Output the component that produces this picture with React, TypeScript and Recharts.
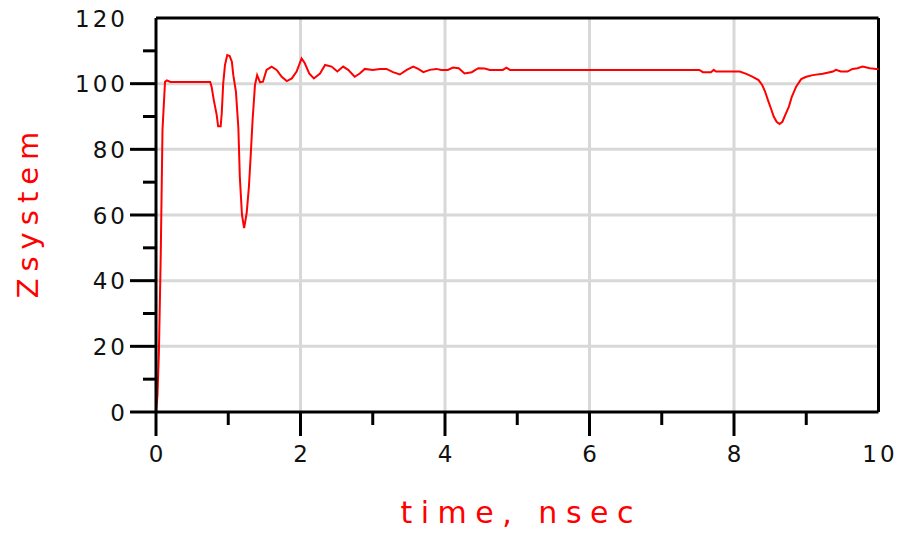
import React from 'react';
import { LineChart, Line, XAxis, YAxis, CartesianGrid, ReferenceLine, Label } from 'recharts';

const timeNs = [
  0, 0.02, 0.04, 0.065, 0.09, 0.125, 0.15, 0.2, 0.75, 0.77, 0.8, 0.84, 0.86, 0.895, 0.91, 0.93,
  0.955, 0.986, 1.02, 1.05, 1.07, 1.106, 1.14, 1.16, 1.19, 1.22, 1.255, 1.286, 1.31, 1.337, 1.37,
  1.4, 1.44, 1.48, 1.53, 1.6, 1.67, 1.74, 1.81, 1.88, 1.946, 2.015, 2.06, 2.12, 2.185, 2.27, 2.34,
  2.43, 2.51, 2.59, 2.66, 2.75, 2.82, 2.89, 3.0, 3.1, 3.19, 3.28, 3.375, 3.47, 3.56, 3.63, 3.7,
  3.79, 3.88, 3.95, 4.04, 4.11, 4.19, 4.27, 4.37, 4.46, 4.55, 4.62, 4.8, 4.85, 4.9, 7.52, 7.57,
  7.68, 7.72, 7.75, 8.08, 8.17, 8.26, 8.34, 8.39, 8.43, 8.47, 8.51, 8.55, 8.59, 8.63, 8.67, 8.71,
  8.76, 8.8, 8.86, 8.93, 9.0, 9.09, 9.23, 9.37, 9.41, 9.48, 9.57, 9.64, 9.71, 9.78, 9.88, 9.97, 10.0,
];

const zsystem = [
  0, 5, 18, 47, 86, 100.6, 101, 100.5, 100.5, 99, 95, 90.5, 87, 87, 91, 100,
  105.7, 108.7, 108.4, 106.7, 102.6, 97.6, 86.5, 71.7, 60, 56, 60.6, 68.6, 77.8, 89, 99.6,
  102.6, 100.4, 100.6, 104.2, 105.2, 104.2, 102.1, 100.8, 101.6, 103.7, 107.7, 106.2, 103.1, 101.6, 103.1, 105.7,
  105.2, 103.7, 105.2, 104.2, 102.1, 103.1, 104.5, 104.2, 104.5, 104.5, 103.5, 102.8, 104.2, 105.2, 104.5, 103.5,
  104.2, 104.5, 104.2, 104.2, 104.9, 104.7, 103.1, 103.5, 104.7, 104.6, 104.2, 104.2, 104.9, 104.2, 104.2, 103.5,
  103.5, 104.2, 103.7, 103.7, 103, 102.1, 101.1, 99.6, 97.6, 95, 92.5, 90, 88.4, 87.7, 88.4, 90.5,
  93, 96, 99.1, 101.4, 102.1, 102.6, 103, 103.7, 104.2, 103.7, 103.7, 104.5, 104.7, 105.2, 104.7, 104.5, 104.5,
];

const xTicks = [0, 1, 2, 3, 4, 5, 6, 7, 8, 9, 10];
const xMajor = [0, 2, 4, 6, 8, 10];
const yTicks = [0, 10, 20, 30, 40, 50, 60, 70, 80, 90, 100, 110, 120];
const yMajor = [0, 20, 40, 60, 80, 100, 120];
const gridX = [2, 4, 6, 8];
const gridY = [20, 40, 60, 80, 100];

const data = timeNs.map((t, i) => ({ t, z: zsystem[i] }));

const FONT = '"DejaVu Sans", sans-serif';

const XTick = (props: any) => {
  const { x, y, payload } = props;
  const v = payload.value;
  const major = xMajor.includes(v);
  const isEnd = v === 10;
  return (
    <g>
      {!isEnd && (
        <line x1={x} x2={x} y1={y} y2={y + (major ? 24 : 13)} stroke="#000" strokeWidth={3} />
      )}
      {major && (
        <text x={x + 1.5} y={y + 50} textAnchor="middle" fontFamily={FONT} fontSize={23} fill="#111" letterSpacing={3}>
          {v}
        </text>
      )}
    </g>
  );
};

const YTick = (props: any) => {
  const { x, y, payload } = props;
  const v = payload.value;
  const major = yMajor.includes(v);
  const isEnd = v === 120;
  return (
    <g>
      {!isEnd && (
        <line x1={x} x2={x - (major ? 26 : 13)} y1={y} y2={y} stroke="#000" strokeWidth={3} />
      )}
      {major && (
        <text x={x - 28} y={y + 8.5} textAnchor="end" fontFamily={FONT} fontSize={23} fill="#111" letterSpacing={3}>
          {v}
        </text>
      )}
    </g>
  );
};

export default function App() {
  return (
    <div style={{ position: 'absolute', left: 0, top: 0, width: 899, height: 536, background: '#fff' }}>
      <LineChart width={899} height={536} data={data} margin={{ top: 18, right: 20.5, bottom: 0, left: 0 }}>
        <CartesianGrid
          horizontalValues={gridY}
          verticalValues={gridX}
          stroke="#d8d8d8"
          strokeWidth={3}
          strokeDasharray=""
        />
        <XAxis
          dataKey="t"
          type="number"
          domain={[0, 10]}
          ticks={xTicks}
          interval={0}
          height={124}
          tickSize={0}
          tickMargin={0}
          tickLine={false}
          axisLine={{ stroke: '#000', strokeWidth: 3 }}
          tick={<XTick />}
        >
          <Label
            content={(p: any) => {
              const vb = p.viewBox || { x: 156, y: 412, width: 722.5, height: 124 };
              return (
                <text
                  x={vb.x + vb.width / 2 + 4}
                  y={vb.y + 111}
                  textAnchor="middle"
                  fontFamily={FONT}
                  fontSize={30}
                  fill="#ff0000"
                  letterSpacing={8.5}
                >
                  time, nsec
                </text>
              );
            }}
          />
        </XAxis>
        <YAxis
          type="number"
          domain={[0, 120]}
          ticks={yTicks}
          interval={0}
          width={156}
          tickSize={0}
          tickMargin={0}
          tickLine={false}
          axisLine={{ stroke: '#000', strokeWidth: 3 }}
          tick={<YTick />}
        >
          <Label
            content={(p: any) => {
              const vb = p.viewBox || { x: 0, y: 18, width: 156, height: 394 };
              const cy = vb.y + vb.height / 2;
              return (
                <text
                  x={38}
                  y={cy}
                  transform={`rotate(-90 38 ${cy})`}
                  dx={3.5}
                  textAnchor="middle"
                  fontFamily={FONT}
                  fontSize={29}
                  fill="#ff0000"
                  letterSpacing={7}
                >
                  Zsystem
                </text>
              );
            }}
          />
        </YAxis>
        <ReferenceLine y={120} stroke="#000" strokeWidth={3} />
        <ReferenceLine x={10} stroke="#000" strokeWidth={3} />
        <Line
          type="linear"
          dataKey="z"
          stroke="#ff0000"
          strokeWidth={2}
          dot={false}
          activeDot={false}
          isAnimationActive={false}
        />
      </LineChart>
    </div>
  );
}
